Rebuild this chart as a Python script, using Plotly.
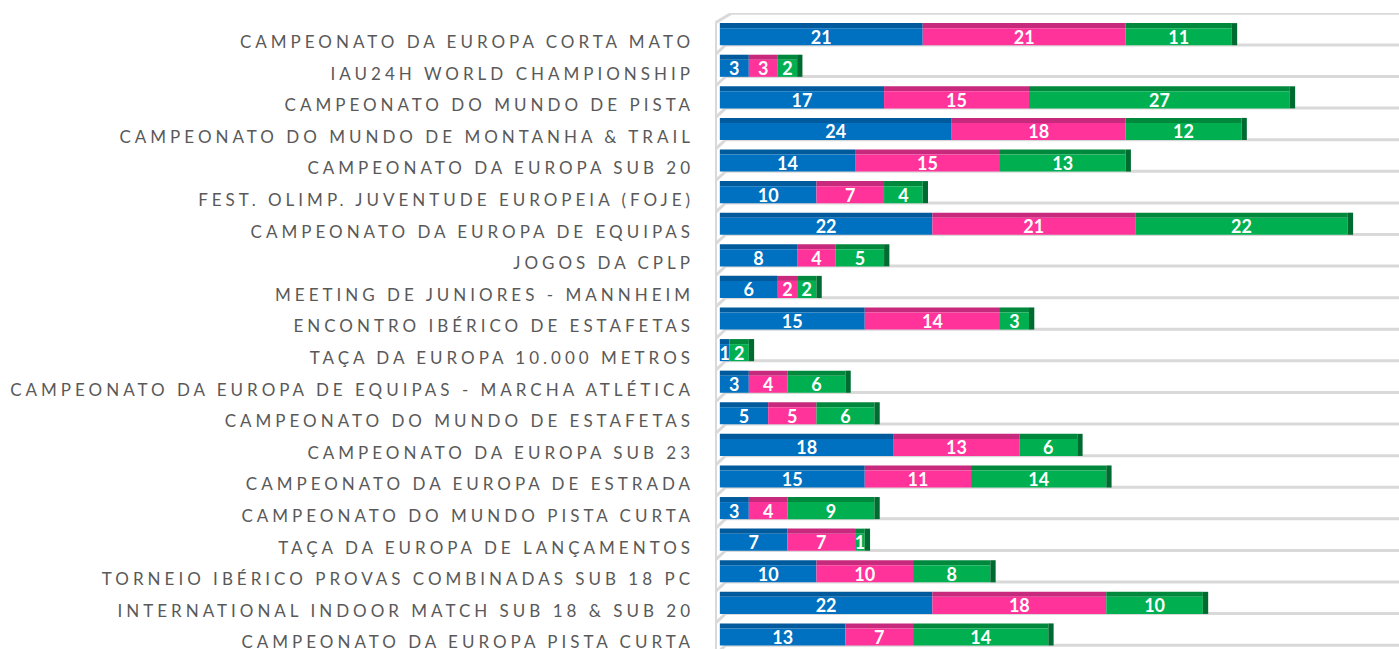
import plotly.graph_objects as go

categories = [
    "CAMPEONATO DA EUROPA CORTA MATO",
    "IAU24H WORLD CHAMPIONSHIP",
    "CAMPEONATO DO MUNDO DE PISTA",
    "CAMPEONATO DO MUNDO DE MONTANHA & TRAIL",
    "CAMPEONATO DA EUROPA SUB 20",
    "FEST. OLIMP. JUVENTUDE EUROPEIA (FOJE)",
    "CAMPEONATO DA EUROPA DE EQUIPAS",
    "JOGOS DA CPLP",
    "MEETING DE JUNIORES - MANNHEIM",
    "ENCONTRO IBÉRICO DE ESTAFETAS",
    "TAÇA DA EUROPA 10.000 METROS",
    "CAMPEONATO DA EUROPA DE EQUIPAS - MARCHA ATLÉTICA",
    "CAMPEONATO DO MUNDO DE ESTAFETAS",
    "CAMPEONATO DA EUROPA SUB 23",
    "CAMPEONATO DA EUROPA DE ESTRADA",
    "CAMPEONATO DO MUNDO PISTA CURTA",
    "TAÇA DA EUROPA DE LANÇAMENTOS",
    "TORNEIO IBÉRICO PROVAS COMBINADAS SUB 18 PC",
    "INTERNATIONAL INDOOR MATCH SUB 18 & SUB 20",
    "CAMPEONATO DA EUROPA PISTA CURTA",
]
series_blue = [21, 3, 17, 24, 14, 10, 22, 8, 6, 15, 1, 3, 5, 18, 15, 3, 7, 10, 22, 13]
series_pink = [21, 3, 15, 18, 15, 7, 21, 4, 2, 14, 0, 4, 5, 13, 11, 4, 7, 10, 18, 7]
series_green = [11, 2, 27, 12, 13, 4, 22, 5, 2, 3, 2, 6, 6, 6, 14, 9, 1, 8, 10, 14]

series = [series_blue, series_pink, series_green]
front_colors = ["#0070C0", "#FF3399", "#00B050"]
top_colors = ["#005A9C", "#C72A7C", "#00883D"]
side_color = "#006B30"

FRONT_OFF, FRONT_W = -0.44, 0.54
TOP_OFF, TOP_W = -0.60, 0.16
SIDE_W_UNITS = 0.55
FLOOR = 0.09
n = len(categories)

fig = go.Figure()
bases = [0] * n
for vals, fc, tc in zip(series, front_colors, top_colors):
    fig.add_trace(go.Bar(
        y=categories, x=vals, base=bases, orientation="h",
        offset=TOP_OFF, width=TOP_W, marker=dict(color=tc, line=dict(width=0)),
        hoverinfo="skip", showlegend=False,
    ))
    fig.add_trace(go.Bar(
        y=categories, x=vals, base=bases, orientation="h",
        offset=FRONT_OFF, width=FRONT_W, marker=dict(color=fc, line=dict(width=0)),
        text=[str(v) for v in vals], textposition="inside", insidetextanchor="middle",
        textangle=0, constraintext="none",
        textfont=dict(family="Lato", size=18, color="white", weight="bold"),
        showlegend=False,
    ))
    bases = [b + v for b, v in zip(bases, vals)]

totals = bases
fig.add_trace(go.Bar(
    y=categories, x=[SIDE_W_UNITS] * n, base=totals, orientation="h",
    offset=TOP_OFF, width=FRONT_OFF + FRONT_W - TOP_OFF,
    marker=dict(color=side_color, line=dict(width=0)),
    hoverinfo="skip", showlegend=False,
))

# 3D floor / wall decoration
shapes = []
grid_col = "#D9D9D9"
boundaries = [FLOOR - 1] + [i + FLOOR for i in range(n)]
for k, b in enumerate(boundaries):
    xs = 1.2 if k == 0 else 0.6
    shapes.append(dict(type="line", xref="x", yref="y", x0=xs, x1=80,
                       y0=b, y1=b, line=dict(color=grid_col, width=3), layer="below"))
    shapes.append(dict(type="line", xref="x", yref="y", x0=-0.45, x1=xs,
                       y0=b + 0.3, y1=b, line=dict(color=grid_col, width=3), layer="below"))
shapes.append(dict(type="line", xref="x", yref="y", x0=-0.45, x1=-0.45, y0=FLOOR - 0.7, y1=20,
                   line=dict(color=grid_col, width=3), layer="below"))

fig.update_layout(
    width=1399, height=649,
    margin=dict(l=715, r=0, t=13, b=0, autoexpand=False),
    paper_bgcolor="white", plot_bgcolor="white",
    barmode="overlay",
    showlegend=False,
    shapes=shapes,
    uniformtext=dict(minsize=18, mode="show"),
    xaxis=dict(range=[-0.5, 70.3], showgrid=False, zeroline=False, showticklabels=False,
               showline=False, fixedrange=True),
    yaxis=dict(type="category", categoryorder="array", categoryarray=categories,
               range=[19.21, -0.92], showgrid=False, zeroline=False, showline=False,
               ticks="", ticklabelstandoff=20, automargin=False, fixedrange=True,
               tickfont=dict(family="Lato", size=17, color="#595959")),
)

post = ("var s=document.createElement('style');"
        "s.textContent='html,body{margin:0;padding:0;overflow:hidden;} .ytick text{letter-spacing:4.0px;}';"
        "document.head.appendChild(s);")
fig.write_html("out.html", post_script=post, config={"displayModeBar": False})
